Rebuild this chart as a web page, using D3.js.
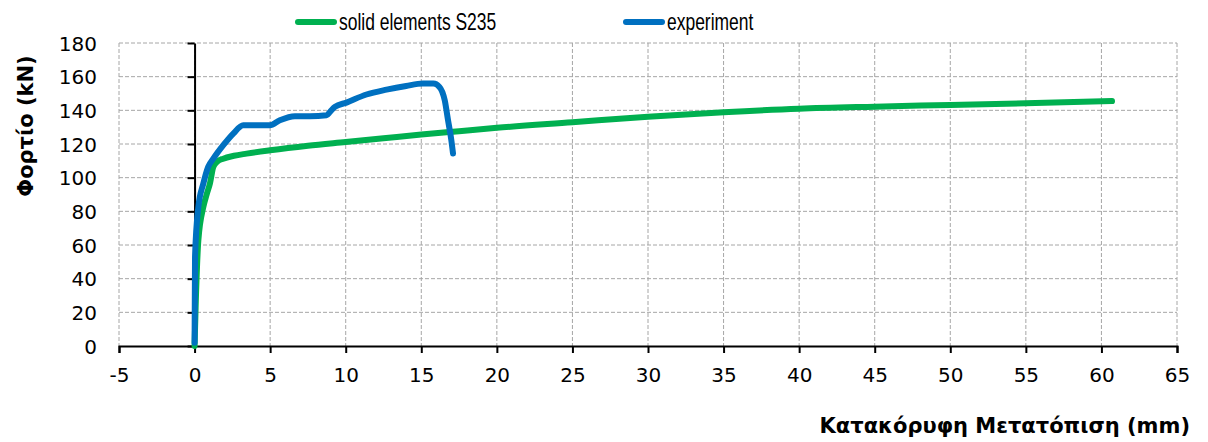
<!DOCTYPE html>
<html>
<head>
<meta charset="utf-8">
<script src="https://cdn.jsdelivr.net/npm/d3@7"></script>
<style>
  body { margin: 0; background: #fff; }
  svg { display: block; }
  .tick text { font-family: "DejaVu Sans", Verdana, sans-serif; font-size: 20px; fill: #000; }
</style>
</head>
<body>
<svg id="chart" width="1208" height="442"></svg>
<script>
// Solid elements S235 (FE model)
const solidX = [0, 0.07, 0.25, 0.58, 0.8, 1.02, 1.24, 1.5, 1.9, 2.6, 3.44, 5, 7.5, 10, 12.5, 15, 17.5, 20, 25, 30, 35, 40, 45, 50, 55, 60.7];
const solidY = [0, 23, 62.8, 82.6, 90, 96.7, 106.4, 109.5, 111.3, 113, 114.3, 116.3, 119, 121.2, 123.4, 125.6, 127.6, 129.6, 132.9, 136.2, 138.9, 141, 142.2, 143.2, 144.2, 145.5];

// Experiment
const expX = [0, 0.03, 0.25, 0.58, 0.9, 1.24, 1.9, 2.56, 3.22, 4.98, 5.64, 6.64, 7.63, 8.73, 8.95, 9.28, 10.05, 11.37, 12.7, 14.0, 15.1, 15.8, 16.2, 16.55, 16.77, 16.99, 17.1];
const expY = [2, 53, 82.6, 96.5, 106.4, 111.3, 119.3, 126.2, 131.1, 131.1, 134.1, 136.5, 136.5, 137.1, 139, 142, 144.6, 149.4, 152.3, 154.5, 155.9, 155.9, 153.9, 146, 134.1, 122.2, 114.3];

const xTicks = d3.range(-5, 66, 5);
const yTicks = d3.range(0, 181, 20);

const seriesNames = ["solid elements S235", "experiment"];
const seriesColors = ["#00B050", "#0070C0"];

const svg = d3.select("#chart");
const margin = { top: 43, right: 31, bottom: 96, left: 119 };
const width = +svg.attr("width") - margin.left - margin.right;
const height = +svg.attr("height") - margin.top - margin.bottom;

const g = svg.append("g").attr("transform", `translate(${margin.left},${margin.top})`);

const x = d3.scaleLinear().domain([-5, 65]).range([0, width]);
const y = d3.scaleLinear().domain([0, 180]).range([height, 0]);

// gridlines
g.append("g")
  .selectAll("line")
  .data(xTicks)
  .join("line")
  .attr("x1", d => x(d)).attr("x2", d => x(d))
  .attr("y1", 0).attr("y2", height)
  .attr("stroke", "#a6a6a6").attr("stroke-dasharray", "4,2");

g.append("g")
  .selectAll("line")
  .data(yTicks.filter(d => d > 0))
  .join("line")
  .attr("x1", 0).attr("x2", width)
  .attr("y1", d => y(d)).attr("y2", d => y(d))
  .attr("stroke", "#a6a6a6").attr("stroke-dasharray", "4,2");

// axes
const xAxis = g.append("g")
  .attr("transform", `translate(0,${y(0)})`)
  .call(d3.axisBottom(x).tickValues(xTicks).tickSize(7).tickPadding(15).tickFormat(d => String(d)));
xAxis.select(".domain").attr("stroke", "#000").attr("stroke-width", 2);
xAxis.selectAll(".tick line").attr("stroke", "#000").attr("stroke-width", 2);

const yAxis = g.append("g")
  .attr("transform", `translate(${x(0)},0)`)
  .call(d3.axisLeft(y).tickValues(yTicks).tickSize(7).tickSizeOuter(0).tickFormat(d => String(d)));
yAxis.select(".domain").attr("stroke", "#000").attr("stroke-width", 2);
yAxis.selectAll(".tick line").attr("stroke", "#000").attr("stroke-width", 2);
// y labels sit at the left of the plot area
yAxis.selectAll(".tick text").attr("x", -x(0) - 22).attr("dy", "0.36em");

// lines
const line = d3.line().x(d => x(d[0])).y(d => y(d[1])).curve(d3.curveMonotoneX);
const solidData = solidX.map((v, i) => [v, solidY[i]]);
const expData = expX.map((v, i) => [v, expY[i]]);

g.append("path").datum(solidData)
  .attr("d", line)
  .attr("fill", "none").attr("stroke", seriesColors[0])
  .attr("stroke-width", 6).attr("stroke-linecap", "round").attr("stroke-linejoin", "round");

g.append("path").datum(expData)
  .attr("d", line)
  .attr("fill", "none").attr("stroke", seriesColors[1])
  .attr("stroke-width", 6).attr("stroke-linecap", "round").attr("stroke-linejoin", "round");

// axis titles
svg.append("text")
  .attr("transform", "translate(33,126) rotate(-90)")
  .attr("text-anchor", "middle")
  .style("font-family", "DejaVu Sans, Verdana, sans-serif")
  .style("font-size", "21px").style("font-weight", "bold")
  .text("Φορτίο (kN)");

svg.append("text")
  .attr("x", 1190).attr("y", 433)
  .attr("text-anchor", "end")
  .style("font-family", "DejaVu Sans, Verdana, sans-serif")
  .style("font-size", "21px").style("font-weight", "bold")
  .text("Κατακόρυφη Μετατόπιση (mm)");

// legend
const legendX = [298, 626];
const legend = svg.append("g");
seriesNames.forEach((name, i) => {
  legend.append("line")
    .attr("x1", legendX[i]).attr("x2", legendX[i] + 36)
    .attr("y1", 22).attr("y2", 22)
    .attr("stroke", seriesColors[i]).attr("stroke-width", 6).attr("stroke-linecap", "round");
  legend.append("text")
    .attr("transform", `translate(${legendX[i] + 41},30) scale(0.76,1)`)
    .style("font-family", "Liberation Sans, sans-serif")
    .style("font-size", "23px")
    .text(name);
});
</script>
</body>
</html>
